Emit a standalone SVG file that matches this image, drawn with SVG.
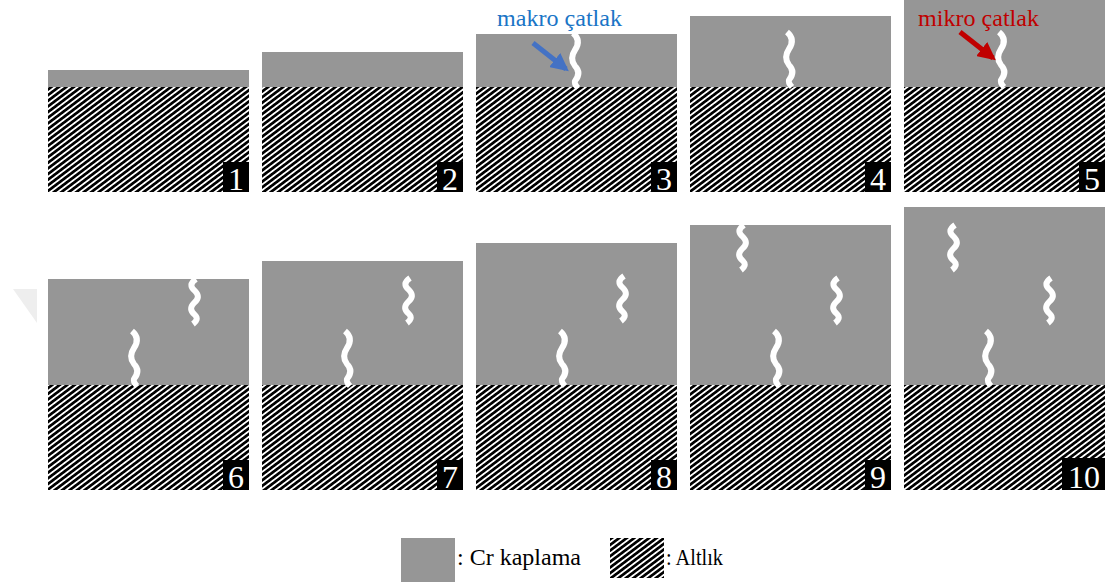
<svg xmlns="http://www.w3.org/2000/svg" xmlns:xlink="http://www.w3.org/1999/xlink" width="1108" height="582" viewBox="0 0 1108 582">
  <style>
    .coat { fill: #969696; }
    .sub { fill: url(#hatch); }
    .crack { fill: none; stroke: #ffffff; stroke-width: 6; stroke-linejoin: round; }
    .numbox { fill: #000000; }
    .num { fill: #ffffff; font-size: 32px; text-anchor: middle; }
    .lbl { font-size: 23px; }
  </style>
  <defs>
    <!-- diagonal stripes for the substrate -->
    <pattern id="hatch" patternUnits="userSpaceOnUse" width="12" height="4.5" patternTransform="rotate(-37)">
      <rect x="0" y="0" width="12" height="4.5" fill="#ffffff"/>
      <rect x="0" y="0" width="12" height="2.4" fill="#000000" shape-rendering="crispEdges"/>
    </pattern>
    <!-- through-thickness crack, 54 px tall -->
    <path id="crackLong" class="crack" d="M0,0 C6,5 6,11 2,17 C-2,23 -2,28 2,33 C7,38 6,43 2,48 C1,51 3,53 5,55"/>
    <!-- short internal crack, 45 px tall -->
    <path id="crackShort" class="crack" d="M2,0 C-4,4 -4,8 1,12 C5,16 5,20 0,24 C-4,28 -4,32 1,36 C4,39 3,42 -1,45"/>
    <marker id="arrowBlue" viewBox="0 0 10 10" refX="8" refY="5" markerWidth="18" markerHeight="18" orient="auto" markerUnits="userSpaceOnUse">
      <path d="M0,0 L10,5 L0,10 Z" fill="#4472c4"/>
    </marker>
    <marker id="arrowRed" viewBox="0 0 10 10" refX="8" refY="5" markerWidth="18" markerHeight="18" orient="auto" markerUnits="userSpaceOnUse">
      <path d="M0,0 L10,5 L0,10 Z" fill="#c00000"/>
    </marker>
  </defs>

  <rect width="1108" height="582" fill="#ffffff"/>

  <!-- faint corner mark -->
  <polygon points="13,289 37,289 37,323" fill="#eeeeee"/>

  <g font-family="'Liberation Serif', 'Times New Roman', 'DejaVu Serif', serif">
  <!-- top row -->
  <g id="panel1">
    <rect class="coat" x="48" y="70" width="201" height="17"/>
    <rect class="sub" x="48" y="87" width="201" height="105"/>
    <rect class="numbox" x="223" y="162" width="26" height="30"/>
    <text class="num" x="236" y="190">1</text>
  </g>
  <g id="panel2">
    <rect class="coat" x="262" y="52" width="201" height="35"/>
    <rect class="sub" x="262" y="87" width="201" height="105"/>
    <rect class="numbox" x="437" y="162" width="26" height="30"/>
    <text class="num" x="450" y="190">2</text>
  </g>
  <g id="panel3">
    <rect class="coat" x="476" y="34" width="201" height="53"/>
    <rect class="sub" x="476" y="87" width="201" height="105"/>
    <use xlink:href="#crackLong" x="573" y="33"/>
    <rect class="numbox" x="651" y="162" width="26" height="30"/>
    <text class="num" x="664" y="190">3</text>
  </g>
  <g id="panel4">
    <rect class="coat" x="690" y="16" width="201" height="71"/>
    <rect class="sub" x="690" y="87" width="201" height="105"/>
    <use xlink:href="#crackLong" x="787" y="32"/>
    <rect class="numbox" x="865" y="162" width="26" height="30"/>
    <text class="num" x="878" y="190">4</text>
  </g>
  <g id="panel5">
    <rect class="coat" x="904" y="0" width="201" height="87"/>
    <rect class="sub" x="904" y="87" width="201" height="105"/>
    <use xlink:href="#crackLong" x="999" y="32"/>
    <rect class="numbox" x="1079" y="162" width="26" height="30"/>
    <text class="num" x="1092" y="190">5</text>
  </g>

  <!-- bottom row -->
  <g id="panel6">
    <rect class="coat" x="48" y="279" width="201" height="106"/>
    <rect class="sub" x="48" y="385" width="201" height="105"/>
    <use xlink:href="#crackLong" x="132" y="331"/>
    <use xlink:href="#crackShort" x="194" y="279"/>
    <rect class="numbox" x="223" y="460" width="26" height="30"/>
    <text class="num" x="236" y="488">6</text>
  </g>
  <g id="panel7">
    <rect class="coat" x="262" y="261" width="201" height="124"/>
    <rect class="sub" x="262" y="385" width="201" height="105"/>
    <use xlink:href="#crackLong" x="345" y="331"/>
    <use xlink:href="#crackShort" x="408" y="278"/>
    <rect class="numbox" x="437" y="460" width="26" height="30"/>
    <text class="num" x="450" y="488">7</text>
  </g>
  <g id="panel8">
    <rect class="coat" x="476" y="243" width="201" height="142"/>
    <rect class="sub" x="476" y="385" width="201" height="105"/>
    <use xlink:href="#crackLong" x="560" y="331"/>
    <use xlink:href="#crackShort" x="622" y="276"/>
    <rect class="numbox" x="651" y="460" width="26" height="30"/>
    <text class="num" x="664" y="488">8</text>
  </g>
  <g id="panel9">
    <rect class="coat" x="690" y="225" width="201" height="160"/>
    <rect class="sub" x="690" y="385" width="201" height="105"/>
    <use xlink:href="#crackLong" x="774" y="331"/>
    <use xlink:href="#crackShort" x="836" y="278"/>
    <use xlink:href="#crackShort" x="742" y="225"/>
    <rect class="numbox" x="865" y="460" width="26" height="30"/>
    <text class="num" x="878" y="488">9</text>
  </g>
  <g id="panel10">
    <rect class="coat" x="904" y="207" width="201" height="178"/>
    <rect class="sub" x="904" y="385" width="201" height="105"/>
    <use xlink:href="#crackLong" x="986" y="331"/>
    <use xlink:href="#crackShort" x="1049" y="278"/>
    <use xlink:href="#crackShort" x="953" y="225"/>
    <rect class="numbox" x="1062" y="458" width="43" height="32"/>
    <text class="num" x="1084" y="488">10</text>
  </g>

  <!-- crack labels -->
  <g id="label-makro">
    <text class="lbl" x="497" y="26" fill="#1a75c6" textLength="125" lengthAdjust="spacingAndGlyphs">makro çatlak</text>
  </g>
  <g id="label-mikro">
    <text class="lbl" x="918" y="26" fill="#c00000" textLength="121" lengthAdjust="spacingAndGlyphs">mikro çatlak</text>
  </g>

  <!-- legend -->
  <g id="legend">
    <rect class="coat" x="401" y="538" width="54" height="44"/>
    <text class="lbl" x="457" y="565" fill="#000000" textLength="124" lengthAdjust="spacingAndGlyphs">: Cr kaplama</text>
    <rect class="sub" x="610" y="538" width="54" height="40"/>
    <text class="lbl" x="666" y="565" fill="#000000" textLength="57" lengthAdjust="spacingAndGlyphs">: Altlık</text>
  </g>
  </g>

  <!-- pointer arrows -->
  <g id="connectors">
    <line x1="533" y1="43" x2="566" y2="69" stroke="#4472c4" stroke-width="5" marker-end="url(#arrowBlue)"/>
    <line x1="960" y1="32" x2="993" y2="58" stroke="#c00000" stroke-width="5" marker-end="url(#arrowRed)"/>
  </g>
</svg>
